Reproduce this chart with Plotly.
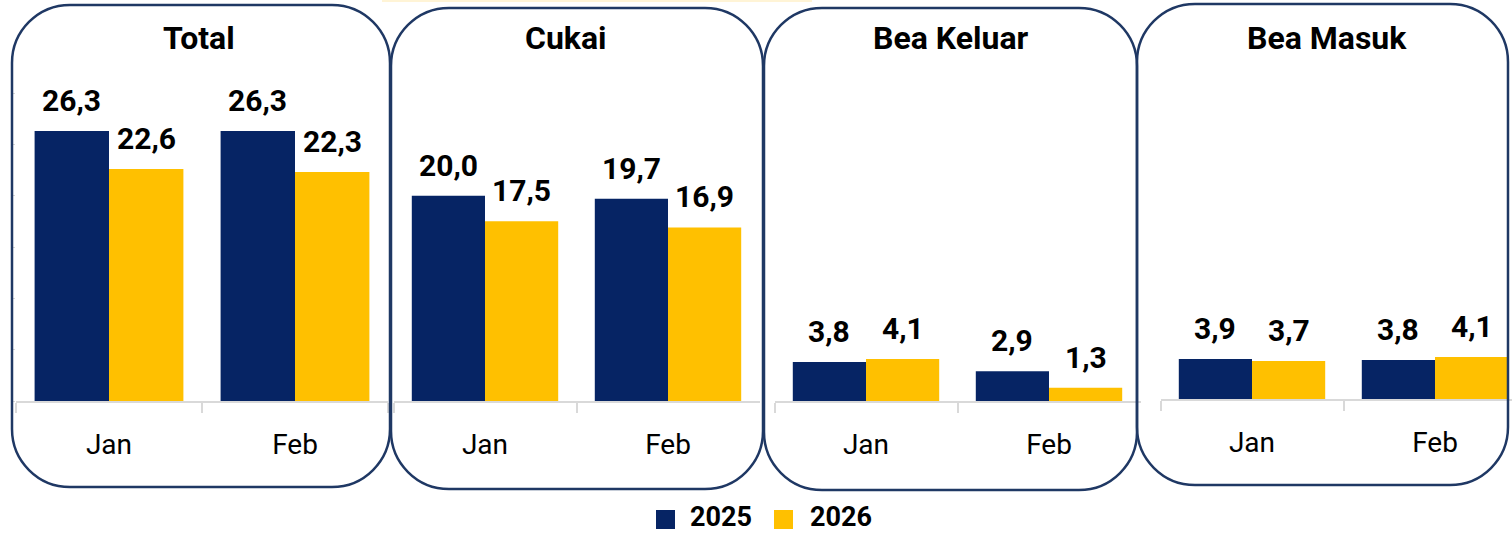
import plotly.graph_objects as go

# ---------------- data ----------------
months = ["Jan", "Feb"]
series_names = ["2025", "2026"]
panel_titles = ["Total", "Cukai", "Bea Keluar", "Bea Masuk"]

total_2025 = [26.3, 26.3]
total_2026 = [22.6, 22.3]
cukai_2025 = [20.0, 19.7]
cukai_2026 = [17.5, 16.9]
keluar_2025 = [3.8, 2.9]
keluar_2026 = [4.1, 1.3]
masuk_2025 = [3.9, 3.8]
masuk_2026 = [3.7, 4.1]

panel_values = [
    (total_2025, total_2026),
    (cukai_2025, cukai_2026),
    (keluar_2025, keluar_2026),
    (masuk_2025, masuk_2026),
]

# ---------------- styling / layout ----------------
W, H = 1512, 534
colors = ["#062464", "#FFC000"]
box_color = "#1F3864"
axis_gray = "#D9D9D9"
BARGAP = 0.2
FONT = "Roboto, 'DejaVu Sans', sans-serif"


def px(x):
    return x / W


def py(y):
    return 1 - y / H


# axis areas in pixels: (x0, x1, ytop, ybottom, xrange_max)
axis_px = [
    (16, 388, 93, 401, 1.5),
    (393.5, 759.5, 93, 401, 1.5),
    (774.5, 1140.5, 93, 401, 1.5),
    (1160.5, 1512, 91, 399, None),
]
# panel boxes in pixels: (x0, y0, x1, y1)
boxes = [(12, 5, 390, 487), (391, 8, 763, 489), (764, 8, 1137, 490), (1137, 4, 1508, 485)]
title_pos = [(199, 38), (566, 38), (951, 38), (1327, 38)]

fig = go.Figure()
annotations = []
shapes = []

for i, (title, vals) in enumerate(zip(panel_titles, panel_values)):
    n = "" if i == 0 else str(i + 1)
    xa, ya = "x" + n, "y" + n
    x0, x1, yt, yb, rmax = axis_px[i]
    if rmax is None:
        cw = (axis_px[2][1] - axis_px[2][0]) / 2.0
        rmax = -0.5 + (x1 - x0) / cw
    span = rmax + 0.5
    cw = (x1 - x0) / span
    bar_w = cw * (1 - BARGAP) / 2

    for s, (name, v) in enumerate(zip(series_names, vals)):
        fig.add_trace(go.Bar(
            x=months, y=v, name=name, xaxis=xa, yaxis=ya,
            marker=dict(color=colors[s], line=dict(width=0)),
            showlegend=False, hoverinfo="x+y+name",
        ))
        shift = (-bar_w / 2) if s == 0 else (bar_w / 2)
        for m, val in zip(months, v):
            annotations.append(dict(
                x=m, y=val, xref=xa, yref=ya, text=f"{val:.1f}".replace(".", ","),
                showarrow=False, yanchor="bottom", xanchor="center",
                xshift=shift, yshift=11,
                font=dict(family=FONT, size=30, color="black", weight="bold"),
            ))

    fig.layout["xaxis" + n] = dict(
        domain=[px(x0), px(x1)], anchor=ya, type="category",
        categoryorder="array", categoryarray=months,
        range=[-0.5, rmax], showline=True, linecolor=axis_gray, linewidth=2,
        ticks="outside", tickson="boundaries", ticklen=10, tickcolor=axis_gray, tickwidth=2,
        tickfont=dict(family=FONT, size=28, color="black"),
        ticklabelstandoff=17, showgrid=False, zeroline=False, fixedrange=True,
    )
    fig.layout["yaxis" + n] = dict(
        domain=[py(yb), py(yt)], anchor=xa, range=[0, 30],
        showticklabels=False, showgrid=False, zeroline=False, showline=False,
        ticks="outside" if i == 0 else "", ticklen=4, tickcolor=axis_gray, dtick=5,
        fixedrange=True,
    )

    tx, ty = title_pos[i]
    annotations.append(dict(
        x=px(tx), y=py(ty), xref="paper", yref="paper", text=title, showarrow=False,
        xanchor="center", yanchor="middle",
        font=dict(family=FONT, size=32, color="black", weight="bold"),
    ))


def rrect(x0, y0, x1, y1, r):
    k = 0.5523 * r

    def p(x, y):
        return f"{px(x):.6f},{py(y):.6f}"

    return (
        f"M {p(x0 + r, y0)} L {p(x1 - r, y0)} "
        f"C {p(x1 - r + k, y0)} {p(x1, y0 + r - k)} {p(x1, y0 + r)} "
        f"L {p(x1, y1 - r)} "
        f"C {p(x1, y1 - r + k)} {p(x1 - r + k, y1)} {p(x1 - r, y1)} "
        f"L {p(x0 + r, y1)} "
        f"C {p(x0 + r - k, y1)} {p(x0, y1 - r + k)} {p(x0, y1 - r)} "
        f"L {p(x0, y0 + r)} "
        f"C {p(x0, y0 + r - k)} {p(x0 + r - k, y0)} {p(x0 + r, y0)} Z"
    )


for (bx0, by0, bx1, by1) in boxes:
    shapes.append(dict(
        type="path", xref="paper", yref="paper", path=rrect(bx0, by0, bx1, by1, 58),
        line=dict(color=box_color, width=2.5), fillcolor="rgba(0,0,0,0)", layer="above",
    ))

# faint top strip
shapes.append(dict(type="rect", xref="paper", yref="paper",
                   x0=px(382), x1=px(812), y0=py(2), y1=py(0),
                   line=dict(width=0), fillcolor="#FFF4D6", layer="below"))

# legend (bottom centre)
legend_items = [(656, 688), (774, 808)]
for (sx, tx), name, c in zip(legend_items, series_names, colors):
    shapes.append(dict(type="rect", xref="paper", yref="paper",
                       x0=px(sx), x1=px(sx + 19), y0=py(529), y1=py(510),
                       line=dict(width=0), fillcolor=c))
    annotations.append(dict(
        x=px(tx), y=py(517), xref="paper", yref="paper", text=name, showarrow=False,
        xanchor="left", yanchor="middle",
        font=dict(family=FONT, size=27, color="black", weight="bold"),
    ))

fig.update_layout(
    width=W, height=H,
    margin=dict(l=0, r=0, t=0, b=0, pad=0, autoexpand=False),
    paper_bgcolor="white", plot_bgcolor="rgba(0,0,0,0)",
    barmode="group", bargap=BARGAP, bargroupgap=0,
    showlegend=False,
    annotations=annotations, shapes=shapes,
)

fig.write_html(
    "out.html",
    config={"displayModeBar": False},
    post_script="document.body.style.margin='0';document.body.style.overflow='hidden';",
)
